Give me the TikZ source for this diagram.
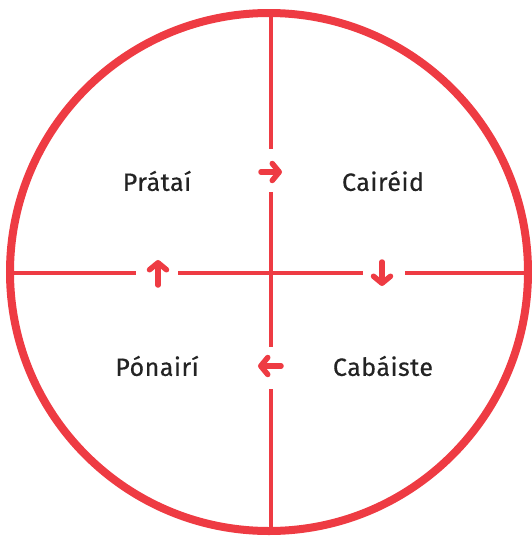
\documentclass[tikz,border=0pt]{standalone}
\usepackage{fontspec}
\setmainfont{Fira Sans}
\newfontfamily\labelfont{Fira Sans}[FakeBold=0.5,LetterSpace=2]
\usetikzlibrary{arrows.meta}
\definecolor{cyclered}{RGB}{238,59,67}
\definecolor{labelgray}{RGB}{35,35,35}

\begin{document}
\begin{tikzpicture}[x=1pt,y=-1pt,
    rim/.style={draw=cyclered,line width=8pt},
    axis/.style={draw=cyclered,line width=4pt},
    turn/.style={draw=cyclered,line width=5.5pt,line cap=round,
      -{Straight Barb[round,length=7pt,width=17pt]}},
    crop/.style={font=\labelfont\fontsize{25}{30}\selectfont,text=labelgray}]
    \useasboundingbox (0,0) rectangle (531,536);

    % Kreis
    \coordinate (c) at (269,272);
    \draw[rim] (c) circle[radius=259];

    % Achsen mit Lücken
    \coordinate (top) at (271,13);    \coordinate (bot) at (271,531);
    \coordinate (lft) at (10,273);    \coordinate (rgt) at (528,273);
    \coordinate (v1) at (271,149);    \coordinate (v2) at (271,192);
    \coordinate (v3) at (271,347);    \coordinate (v4) at (271,389);
    \coordinate (h1) at (136,273);    \coordinate (h2) at (178,273);
    \coordinate (h3) at (363,273);    \coordinate (h4) at (405,273);
    \draw[axis] (top) -- (v1); \draw[axis] (v2) -- (v3); \draw[axis] (v4) -- (bot);
    \draw[axis] (lft) -- (h1); \draw[axis] (h2) -- (h3); \draw[axis] (h4) -- (rgt);

    % Pfeile
    \coordinate (a1) at (261,172); \coordinate (b1) at (282,172);
    \coordinate (a2) at (382,262); \coordinate (b2) at (382,286);
    \coordinate (a3) at (281,366); \coordinate (b3) at (258,366);
    \coordinate (a4) at (158,285); \coordinate (b4) at (158,260);
    \draw[turn] (a1) -- (b1);
    \draw[turn] (a2) -- (b2);
    \draw[turn] (a3) -- (b3);
    \draw[turn] (a4) -- (b4);

    % Beschriftungen
    \node[crop] (pratai) at (157,181) {Prátaí};
    \node[crop] (caireid) at (383,181) {Cairéid};
    \node[crop] (ponairi) at (157,366) {Pónairí};
    \node[crop] (cabaiste) at (383,366) {Cabáiste};
\end{tikzpicture}
\end{document}
